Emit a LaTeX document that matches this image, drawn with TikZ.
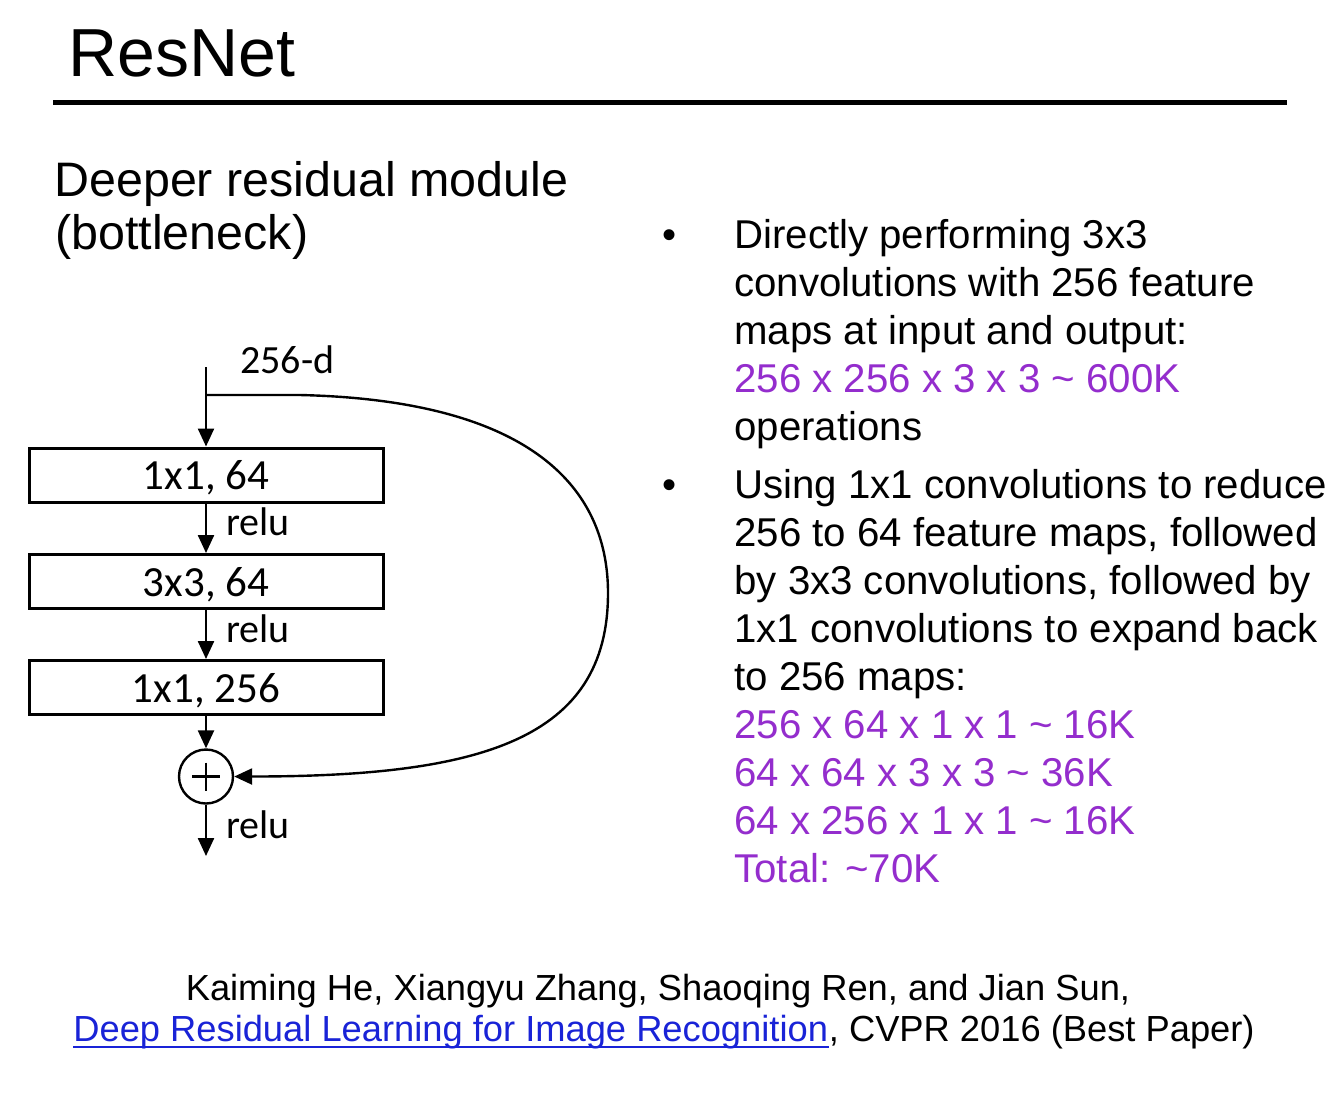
\documentclass[tikz,border=0pt]{standalone}
\usepackage{fontspec}
\setmainfont{Liberation Sans}
\newfontfamily\calib{Carlito}
\usetikzlibrary{arrows.meta,calc}
\definecolor{opsviolet}{RGB}{148,45,205}
\definecolor{linkblue}{RGB}{25,35,215}
\begin{document}
\begin{tikzpicture}[x=0.5pt,y=-0.5pt,
  txt/.style={inner sep=0pt, anchor=base west},
  bul/.style={txt, font=\fontsize{20.1}{24}\selectfont},
  ops/.style={bul, text=opsviolet},
  cite/.style={inner sep=0pt, font=\fontsize{18.15}{21}\selectfont},
  blk/.style={draw, line width=1.5pt, minimum width=177pt, minimum height=27pt, inner sep=0pt, text depth=0pt, font=\calib\fontsize{21.5}{24}\selectfont},
  lbl/.style={inner sep=0pt, anchor=base west, font=\calib\fontsize{20}{24}\selectfont},
  arr/.style={line width=1.2pt, -{Triangle[length=9pt,width=8pt]}}
]
\useasboundingbox (0,0) rectangle (1342,1094);
\fill[white] (0,0) rectangle (1342,1094);

% title
\node[txt, font=\fontsize{34}{40}\selectfont] (title) at (68,76) {ResNet};
\draw[line width=2.5pt] (53,102) -- (1287,102);

\node[txt, font=\fontsize{24.2}{29}\selectfont] (sub1) at (54,196) {Deeper residual module};
\node[txt, font=\fontsize{24.2}{29}\selectfont] (sub2) at (55,249) {(bottleneck)};

% diagram
\node[blk] (b1) at (206,475) {1x1, 64};
\node[blk] (b2) at (206,581.5) {3x3, 64};
\node[blk] (b3) at (206,687.5) {1x1, 256};
\node[draw, circle, line width=1.2pt, minimum size=27pt, inner sep=0pt] (sum) at (206,776.5) {};
\draw[line width=1.2pt] ($(sum.center)+(-14,0)$) -- ($(sum.center)+(14,0)$);
\draw[line width=1.2pt] ($(sum.center)+(0,-14)$) -- ($(sum.center)+(0,14)$);

\coordinate (in) at (206,367);
\coordinate (split) at (206,395);
\coordinate (out) at (206,856);

\draw[arr] (in) -- (b1.north);
\draw[arr] (b1) -- (b2);
\draw[arr] (b2) -- (b3);
\draw[arr] (b3) -- (sum);
\draw[arr] (sum) -- (out);
\draw[arr] (split) -- (300,395) .. controls (520,400) and (608,480) .. (608,593)
  .. controls (608,740) and (480,776.5) .. (sum.east);

\node[lbl] (dlab) at (240,373) {256-d};
\node[lbl] (r1) at (226,535) {relu};
\node[lbl] (r2) at (226,642) {relu};
\node[lbl] (r3) at (226,838) {relu};

% bullets
\node[bul, anchor=base] (dot1) at (670,248) {\textbullet};
\node[bul] (a1) at (734,248) {Directly performing 3x3};
\node[bul] (a2) at (734,296) {convolutions with 256 feature};
\node[bul] (a3) at (734,344) {maps at input and output:};
\node[ops] (a4) at (734,392) {256 x 256 x 3 x 3 \textasciitilde{} 600K};
\node[bul] (a5) at (734,440) {operations};

\node[bul, anchor=base] (dot2) at (670,498) {\textbullet};
\node[bul] (e1) at (734,498) {Using 1x1 convolutions to reduce};
\node[bul] (e2) at (734,546) {256 to 64 feature maps, followed};
\node[bul] (e3) at (734,594) {by 3x3 convolutions, followed by};
\node[bul] (e4) at (734,642) {1x1 convolutions to expand back};
\node[bul] (e5) at (734,690) {to 256 maps:};
\node[ops] (e6) at (734,738) {256 x 64 x 1 x 1 \textasciitilde{} 16K};
\node[ops] (e7) at (734,786) {64 x 64 x 3 x 3 \textasciitilde{} 36K};
\node[ops] (e8) at (734,834) {64 x 256 x 1 x 1 \textasciitilde{} 16K};
\node[ops] (e9) at (734,882) {Total: \textasciitilde70K};

% citation
\node[cite, anchor=base] (c1) at (658,1000) {Kaiming He, Xiangyu Zhang, Shaoqing Ren, and Jian Sun,};
\node[cite, anchor=base west, text=linkblue] (c2) at (73,1041) {Deep Residual Learning for Image Recognition};
\node[cite, anchor=base west] (c3) at (c2.base east) {, CVPR 2016 (Best Paper)};
\draw[linkblue, line width=1.2pt] ($(c2.base west)+(0,6)$) -- ($(c2.base east)+(0,6)$);
\end{tikzpicture}
\end{document}
